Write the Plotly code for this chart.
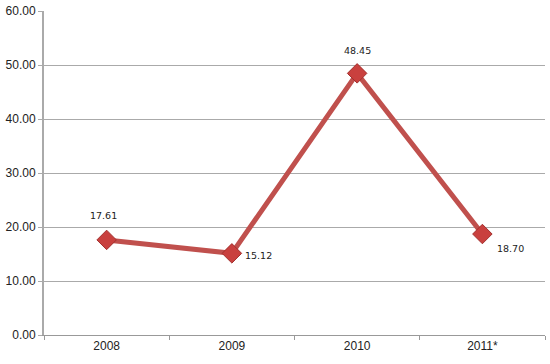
import plotly.graph_objects as go

years = ["2008", "2009", "2010", "2011*"]
values = [17.61, 15.12, 48.45, 18.70]
labels = ["17.61", "15.12", "48.45", "18.70"]
# label offsets in pixels (x, y)
label_dx = [-3, 27, 0, 28]
label_dy = [24, -2, 23, -14]

fig = go.Figure()
fig.add_trace(go.Scatter(
    x=years, y=values, mode="lines+markers",
    line=dict(color="#c0504d", width=5),
    marker=dict(symbol="diamond", size=15, color="#c9403e",
                line=dict(color="#a3302e", width=1)),
    hoverinfo="skip",
))
for i, (y, t, dx, dy) in enumerate(zip(values, labels, label_dx, label_dy)):
    fig.add_annotation(x=i, y=y, xref="x", yref="y", text=t, showarrow=False,
                       xshift=dx, yshift=dy,
                       font=dict(family="DejaVu Sans", size=9.5, color="#222222"))

fig.update_layout(
    width=550, height=364,
    margin=dict(l=44, r=5, t=11, b=29),
    paper_bgcolor="white", plot_bgcolor="white",
    showlegend=False,
    font=dict(family="Liberation Sans", size=12, color="#222222"),
)
fig.update_xaxes(
    type="category", range=[-0.5, 3.5], automargin=False,
    showline=True, linecolor="#999999", linewidth=1,
    ticks="outside", tickson="boundaries", ticklen=4, tickcolor="#999999",
    showgrid=False, tickfont=dict(size=12),
)
fig.update_yaxes(
    range=[0, 60], dtick=10, tickformat=".2f", automargin=False,
    showline=True, linecolor="#aaaaaa", linewidth=2,
    ticks="outside", ticklen=4, tickcolor="#aaaaaa",
    showgrid=True, gridcolor="#aaaaaa", gridwidth=1,
    zeroline=False, tickfont=dict(size=12),
)
fig.write_html("out.html", config={"displayModeBar": False},
               post_script="document.body.style.margin='0';")
